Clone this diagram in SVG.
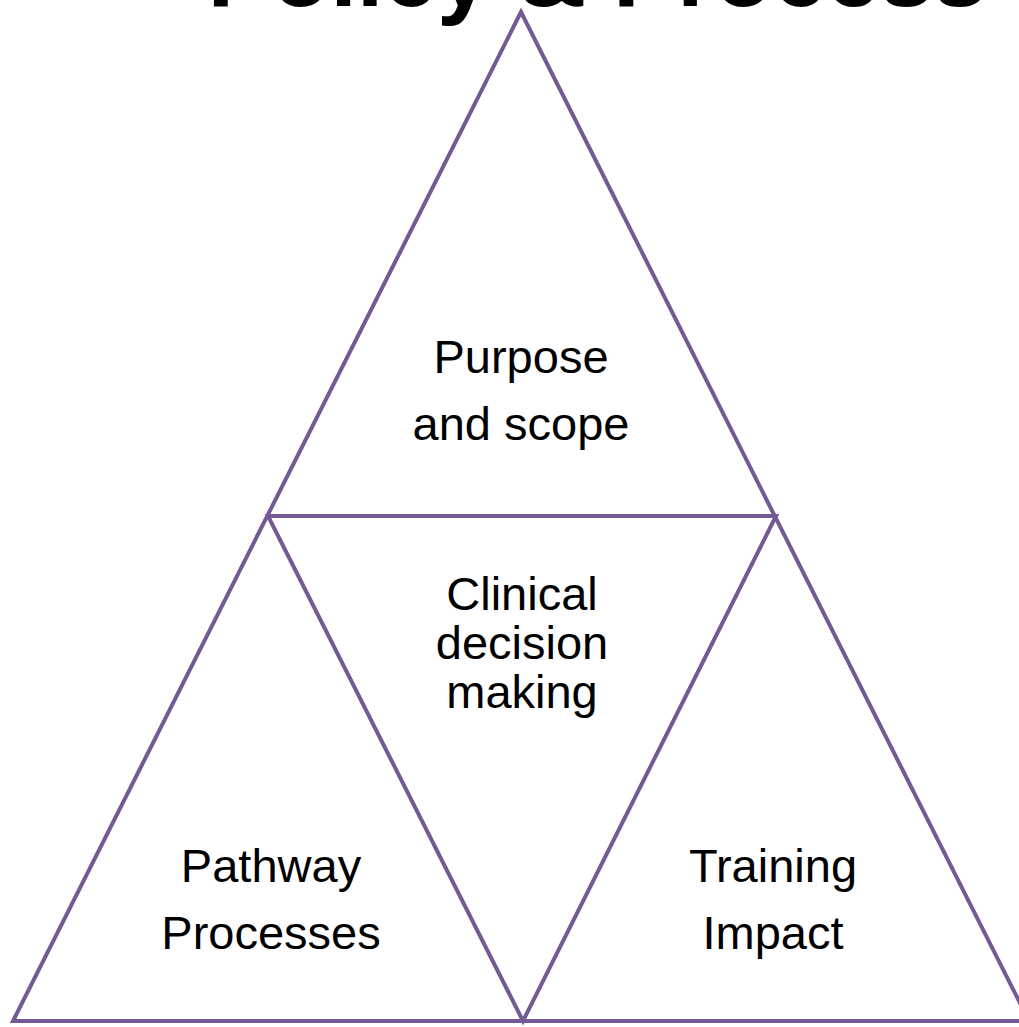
<svg xmlns="http://www.w3.org/2000/svg" width="1019" height="1027" viewBox="0 0 1019 1027">
  <style>
    .edge { fill: none; stroke: #735A95; stroke-width: 4; stroke-linejoin: miter; }
    .label { font-family: "Liberation Sans", Arial, sans-serif; font-size: 47px; fill: #000; text-anchor: middle; }
    .title { font-family: "Liberation Sans", Arial, sans-serif; font-size: 96px; font-weight: bold; fill: #000; text-anchor: middle; }
  </style>
  <rect width="1019" height="1027" fill="#fff"/>

  <!-- heading, partly above the top edge -->
  <text class="title" x="597" y="6">Policy &amp; Process</text>

  <!-- triangle outlines -->
  <g id="connectors">
    <polygon class="edge" points="521,12 13,1021 1029,1021"/>
    <polygon class="edge" points="268,516 776,516 523,1021"/>
  </g>

  <g id="purpose">
    <text class="label" x="521" y="373">Purpose</text>
    <text class="label" x="521" y="440">and scope</text>
  </g>

  <g id="clinical">
    <text class="label" x="522" y="610">Clinical</text>
    <text class="label" x="522" y="659">decision</text>
    <text class="label" x="522" y="708">making</text>
  </g>

  <g id="pathway">
    <text class="label" x="271" y="882">Pathway</text>
    <text class="label" x="271" y="949">Processes</text>
  </g>

  <g id="training">
    <text class="label" x="773" y="882">Training</text>
    <text class="label" x="773" y="949">Impact</text>
  </g>
</svg>
